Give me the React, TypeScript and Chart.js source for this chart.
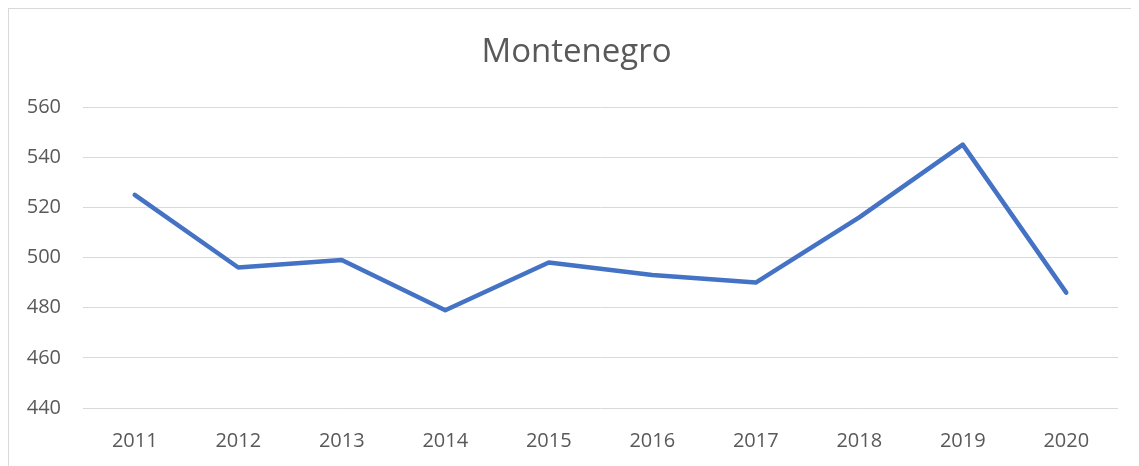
import React, { useEffect, useRef } from "react";
import { Chart, registerables } from "chart.js";

Chart.register(...registerables);

const years = ["2011", "2012", "2013", "2014", "2015", "2016", "2017", "2018", "2019", "2020"];
const values = [525, 496, 499, 479, 498, 493, 490, 516, 545, 486];
const yMin = 440;
const yMax = 560;
const yStep = 20;
const title = "Montenegro";

const titlePlugin = {
  id: "centeredTitle",
  afterDraw(chart: any) {
    const ctx = chart.ctx;
    ctx.save();
    ctx.font = "33px 'Open Sans'";
    ctx.fillStyle = "#595959";
    ctx.textAlign = "center";
    ctx.textBaseline = "middle";
    ctx.fillText(title, 567.5, 44);
    ctx.restore();
  },
};

export default function App() {
  const ref = useRef<HTMLCanvasElement | null>(null);
  useEffect(() => {
    if (!ref.current) return;
    const chart = new Chart(ref.current, {
      type: "line",
      data: {
        labels: years,
        datasets: [
          {
            label: title,
            data: values,
            borderColor: "#4472C4",
            backgroundColor: "#4472C4",
            borderWidth: 4.5,
            pointRadius: 0,
            tension: 0,
            borderJoinStyle: "round",
            borderCapStyle: "round",
          },
        ],
      },
      plugins: [titlePlugin],
      options: {
        responsive: false,
        animation: false,
        layout: { padding: { left: 10, right: 21, top: 98, bottom: 0 } },
        plugins: {
          legend: { display: false },
          tooltip: { enabled: false },
          title: { display: false },
        },
        scales: {
          x: {
            offset: true,
            grid: { display: false },
            border: { display: false },
            ticks: {
              color: "#595959",
              font: { family: "'Open Sans'", size: 20 },
              padding: 13,
              maxRotation: 0,
            },
            afterFit: (scale: any) => {
              scale.height = 58;
            },
          },
          y: {
            min: yMin,
            max: yMax,
            grid: { color: "#d9d9d9", lineWidth: 1, drawTicks: false },
            border: { display: false },
            ticks: {
              stepSize: yStep,
              color: "#595959",
              font: { family: "'Open Sans'", size: 20 },
              padding: 22,
            },
            afterFit: (scale: any) => {
              scale.width = 64;
            },
          },
        },
      },
    });
    return () => chart.destroy();
  }, []);
  return (
    <div
      style={{
        width: 1131,
        height: 458,
        borderTop: "1px solid #d9d9d9",
        borderLeft: "1px solid #d9d9d9",
        boxSizing: "border-box",
        overflow: "hidden",
      }}
    >
      <canvas ref={ref} width={1130} height={457} style={{ display: "block" }} />
    </div>
  );
}
